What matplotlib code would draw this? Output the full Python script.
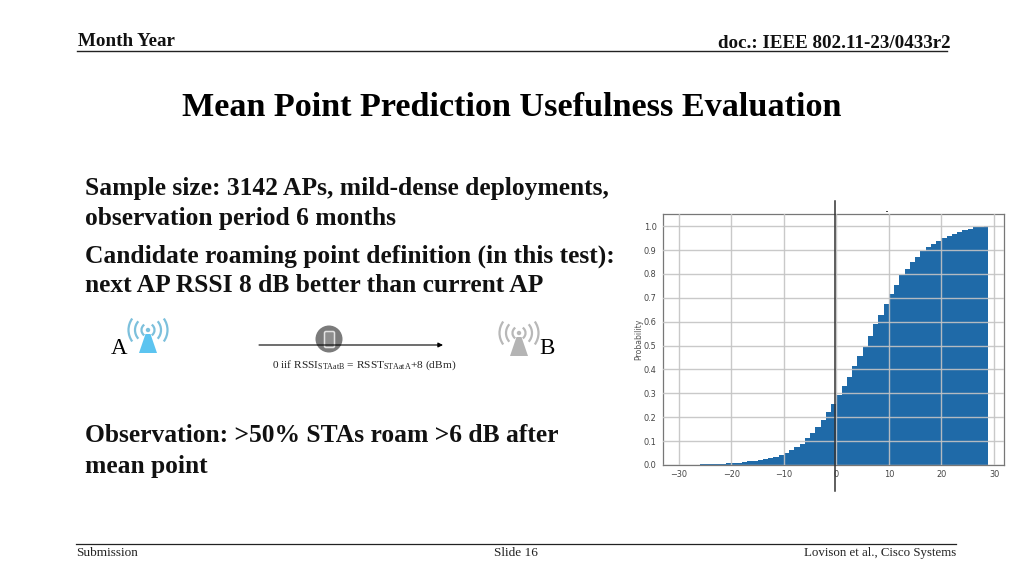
import matplotlib
matplotlib.use("Agg")
import matplotlib.pyplot as plt
from matplotlib.patches import Arc, Polygon, Circle, FancyBboxPatch
import numpy as np

bin_edges = list(range(-28, 29)) + [28.9]
cum_prob = [.001, .002, .003, .003, .004, .005, .006, .007, .008, .010, .012, .015, .018, .022,
            .025, .029, .035, .043, .050, .062, .075, .090, .113, .135, .160, .190, .220, .255,
            .295, .330, .370, .415, .455, .495, .540, .590, .630, .675, .715, .755, .795, .820,
            .850, .870, .895, .912, .925, .940, .950, .960, .968, .977, .983, .990, .995, .997,
            1.0]
x_ticks = [-30, -20, -10, 0, 10, 20, 30]
y_ticks = [0.0, 0.1, 0.2, 0.3, 0.4, 0.5, 0.6, 0.7, 0.8, 0.9, 1.0]

title = "Mean Point Prediction Usefulness Evaluation"
header_left = "Month Year"
header_right = "doc.: IEEE 802.11-23/0433r2"
footer_left = "Submission"
footer_mid = "Slide 16"
footer_right = "Lovison et al., Cisco Systems"
body_lines = [
    ("Sample size: 3142 APs, mild-dense deployments,", 189),
    ("observation period 6 months", 219),
    ("Candidate roaming point definition (in this test):", 256),
    ("next AP RSSI 8 dB better than current AP", 286),
    ("Observation: >50% STAs roam >6 dB after", 436),
    ("mean point", 466),
]

W, H = 1024, 576
SERIF = "Liberation Serif"
plt.rcParams["mathtext.fontset"] = "custom"
plt.rcParams["mathtext.rm"] = SERIF
fig = plt.figure(figsize=(W / 100, H / 100), dpi=100, facecolor="white")
bg = fig.add_axes([0, 0, 1, 1])
bg.set_xlim(0, W)
bg.set_ylim(H, 0)
bg.axis("off")

bg.text(78, 42, header_left, family=SERIF, weight="bold", fontsize=13.7, va="center", color="#111111")
bg.text(951, 44, header_right, family=SERIF, weight="bold", fontsize=13.7, va="center", ha="right", color="#111111")
bg.plot([77, 947], [51, 51], color="#222222", lw=1.0)
bg.text(512, 107, title, family=SERIF, weight="bold", fontsize=24.6, va="center", ha="center", color="black")
for s, y in body_lines:
    bg.text(85, y, s, family=SERIF, weight="bold", fontsize=18.4, va="center", color="#111111")

bg.plot([76, 956], [544, 544], color="#222222", lw=0.9)
bg.text(76, 553, footer_left, family=SERIF, fontsize=9.5, va="center", color="#222222")
bg.text(516, 553, footer_mid, family=SERIF, fontsize=9.5, va="center", ha="center", color="#222222")
bg.text(956, 553, footer_right, family=SERIF, fontsize=9.3, va="center", ha="right", color="#222222")


def ap_icon(cx, cy, color, arc_color):
    bg.add_patch(Polygon([[cx - 9, cy + 23], [cx + 9, cy + 23], [cx + 2.5, cy + 4], [cx - 2.5, cy + 4]],
                         closed=True, color=color, lw=0))
    bg.add_patch(Circle((cx, cy), 2.2, color=arc_color, lw=0))
    for d, a in ((13, 55), (26, 42), (39, 36)):
        bg.add_patch(Arc((cx, cy), d, d, theta1=180 - a, theta2=180 + a, color=arc_color, lw=1.6))
        bg.add_patch(Arc((cx, cy), d, d, theta1=-a, theta2=a, color=arc_color, lw=1.6))


ap_icon(148, 330, "#5cc4f0", "#7cc0dc")
ap_icon(519, 333, "#b4b4b4", "#b8b8b8")
bg.text(119, 349, "A", family=SERIF, fontsize=16.5, va="center", ha="center", color="black")
bg.text(547, 349, "B", family=SERIF, fontsize=16.5, va="center", ha="center", color="black")

bg.add_patch(Circle((329, 339), 13.5, color="#7b7b7b", lw=0))
bg.add_patch(FancyBboxPatch((324.5, 331.5), 10, 16, boxstyle="round,pad=0,rounding_size=1.5",
                            fc="#8e8e8e", ec="#e2e2e2", lw=1.1))
bg.annotate("", xy=(443, 345), xytext=(259, 345),
            arrowprops=dict(arrowstyle="-|>", color="black", lw=0.8, mutation_scale=7, shrinkA=0, shrinkB=0))
bg.text(364, 365.5,
        r"0 iif RSSI$_{\mathrm{STAatB}}$ = RSST$_{\mathrm{STAatA}}$+8 (dBm)",
        family=SERIF, math_fontfamily="custom", fontsize=8.2, va="center", ha="center", color="#222222")

# Histogram panel: left 663, right 1004, top 214.3, bottom 465 in pixels
ax = fig.add_axes([663 / W, 1 - 465 / H, (1004 - 663) / W, (465 - 214.3) / H])
ax.stairs(cum_prob, bin_edges, fill=True, color="#1f6aa8", lw=0, zorder=2)
ax.set_xlim(-33, 31.9)
ax.set_ylim(0, 1.05)
ax.set_xticks(x_ticks)
ax.set_yticks(y_ticks)
ax.set_yticklabels([f"{v:.1f}" for v in y_ticks])
ax.set_xticklabels([str(v).replace("-", "\u2212") for v in x_ticks])
ax.grid(True, color="#c4c4c4", lw=1.0, zorder=3, alpha=0.9)
ax.set_axisbelow(False)
ax.tick_params(labelsize=5.9, length=0, colors="#444444")
ax.tick_params(axis="x", pad=3.5)
ax.tick_params(axis="y", pad=4.5)
ax.set_ylabel("Probability", fontsize=5.6, color="#555555", labelpad=0.5)
for s in ax.spines.values():
    s.set_color("#777777")
    s.set_linewidth(0.9)

bg.set_zorder(2)
bg.patch.set_alpha(0)
bg.plot([835, 835], [201, 491], color="#333333", lw=1.1)
bg.plot([886, 887], [211, 211], color="#444444", lw=0.7)

fig.savefig("out.png", dpi=100, facecolor="white")
